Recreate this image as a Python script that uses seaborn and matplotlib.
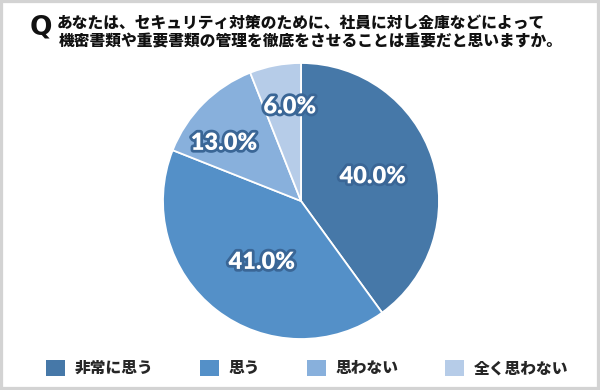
import matplotlib
matplotlib.use("Agg")
import matplotlib.pyplot as plt
import matplotlib.patheffects as pe
from matplotlib.patches import Rectangle
import numpy as np
import seaborn as sns

# ---- data ----
categories = ["非常に思う", "思う", "思わない", "全く思わない"]
values = [40.0, 41.0, 13.0, 6.0]
colors = ["#4678a8", "#5490c8", "#88b0dc", "#b6cce8"]
title_q = "Q"
title_lines = ["あなたは、セキュリティ対策のために、社員に対し金庫などによって",
               "機密書類や重要書類の管理を徹底をさせることは重要だと思いますか。"]

# label placement style (radius fraction, angular nudge in degrees)
label_r = [0.55, 0.525, 0.70, 0.69]
label_shift = [1, 5, 8, -4]

sns.set_theme(style="white")
plt.rcParams['font.family'] = ['Noto Sans CJK JP', 'DejaVu Sans']

fig = plt.figure(figsize=(6, 3.9), dpi=100)
fig.patch.set_facecolor("white")

W, H = 600, 390
cx, cy, R = 301, 201, 138
ax = fig.add_axes([(cx - R) / W, (H - cy - R) / H, 2 * R / W, 2 * R / H])
wedges, _ = ax.pie(values, colors=colors, startangle=90, counterclock=False,
                   wedgeprops=dict(edgecolor="white", linewidth=1.3), radius=1)
ax.set_xlim(-1, 1)
ax.set_ylim(-1, 1)
ax.set_aspect("equal")
ax.axis("off")

for w, v, r, s in zip(wedges, values, label_r, label_shift):
    ang = np.deg2rad((w.theta1 + w.theta2) / 2 + s)
    ax.text(r * np.cos(ang), r * np.sin(ang), f"{v:.1f}%",
            ha="center", va="center", color="white", fontsize=17,
            fontweight="heavy", family=["Lato", "DejaVu Sans"],
            path_effects=[pe.withStroke(linewidth=4, foreground="#3a6696")])

# title
fig.text(30 / W, 1 - 28 / H, title_q, fontsize=19, fontweight="bold",
         family=["Liberation Sans Narrow", "DejaVu Sans"], ha="left", va="center",
         color="#111111")
fig.text(57 / W, 1 - 23 / H, title_lines[0], fontsize=11.3, fontweight="black",
         ha="left", va="center", color="#111111")
fig.text(59 / W, 1 - 42 / H, title_lines[1], fontsize=11.3, fontweight="black",
         ha="left", va="center", color="#111111")

# legend
handles = [Rectangle((0, 0), 1, 1, facecolor=c, edgecolor="none") for c in colors]
leg = fig.legend(handles, categories, loc="center", ncol=4,
                 bbox_to_anchor=(0.512, 1 - 368 / H), frameon=False,
                 handlelength=1.2, handleheight=1.2, handletextpad=0.6,
                 columnspacing=3.0,
                 prop=dict(family=['Noto Sans CJK JP', 'DejaVu Sans'],
                           weight="black", size=11.3))

# border
fig.patches.append(Rectangle((0, 0), 1, 1, transform=fig.transFigure,
                             fill=False, edgecolor="#d3d3d3", linewidth=4.5))

fig.savefig("out.png", dpi=100, facecolor="white")
